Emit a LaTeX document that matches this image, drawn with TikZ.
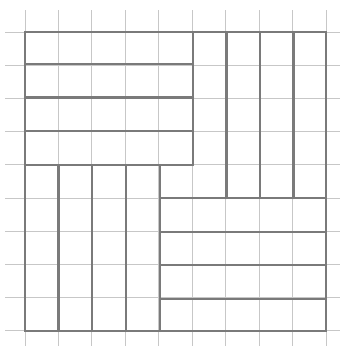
\documentclass[tikz,border=0pt]{standalone}
\begin{document}
\begin{tikzpicture}[x=1pt,y=-1pt,
  gridline/.style={draw=black!22, line width=0.9pt},
  pencil/.style={draw=black!52, line width=2.2pt, line cap=round}]
\useasboundingbox (0,0) rectangle (345,346);
% graph paper
\foreach \k in {0,...,9} {
  \pgfmathsetmacro{\gx}{25+33.44*\k}
  \pgfmathsetmacro{\gy}{32+33.2*\k}
  \draw[gridline] (\gx,10) -- (\gx,346);
  \draw[gridline] (5,\gy) -- (340,\gy);
}
% outer square
\draw[pencil] (25,32) -- (326,32) -- (326,331) -- (25,331) -- cycle;
% top-left block: horizontal strips
\foreach \y in {64,97.5,131,165} \draw[pencil] (25,\y) -- (193,\y);
\draw[pencil] (193,32) -- (193,165);
% top-right block: vertical strips
\foreach \x in {226.5,260,293.5} \draw[pencil] (\x,32) -- (\x,198);
% bottom-right block: horizontal strips
\foreach \y in {198,232,265,299} \draw[pencil] (160,\y) -- (326,\y);
\draw[pencil] (160,165) -- (160,331);
% bottom-left block: vertical strips
\foreach \x in {58.5,92,126} \draw[pencil] (\x,165) -- (\x,331);
\end{tikzpicture}
\end{document}
